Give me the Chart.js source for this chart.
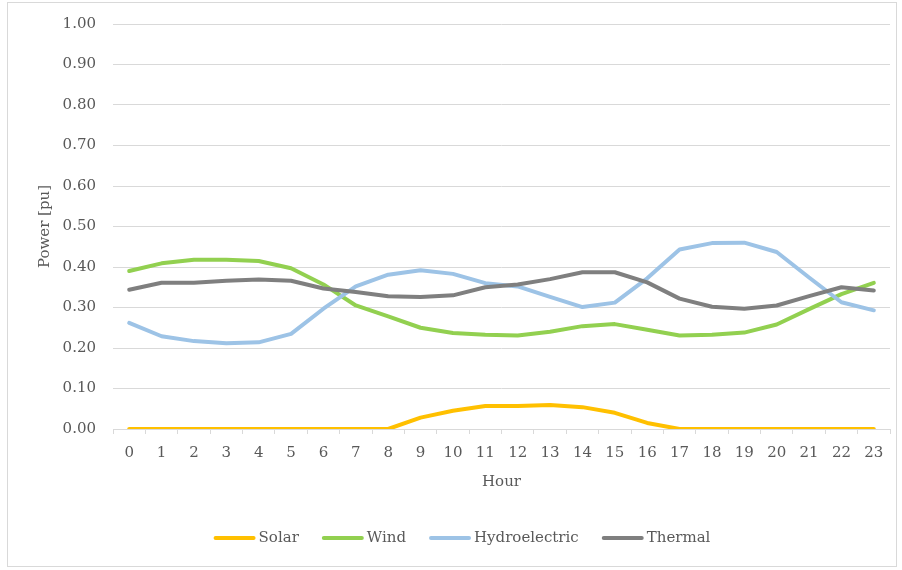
<!DOCTYPE html>
<html>
<head>
<meta charset="utf-8">
<script src="https://cdn.jsdelivr.net/npm/chart.js@4/dist/chart.umd.min.js"></script>
<style>
  html, body { margin: 0; padding: 0; background: #ffffff; }
  #wrap { position: relative; width: 902px; height: 570px; }
  #frame { position: absolute; left: 7px; top: 2px; width: 888px; height: 563px; border: 1px solid #D9D9D9; pointer-events: none; }
  canvas { position: absolute; left: 0; top: 0; }
</style>
</head>
<body>
<div id="wrap">
  <canvas id="chart" width="902" height="570"></canvas>
  <div id="frame"></div>
</div>
<script>
// Hourly generation mix, per-unit power
const hours = ['0','1','2','3','4','5','6','7','8','9','10','11','12','13','14','15','16','17','18','19','20','21','22','23'];
const solar = [0,0,0,0,0,0,0,0,0,0.028,0.045,0.057,0.057,0.059,0.054,0.040,0.015,0,0,0,0,0,0,0];
const wind = [0.390,0.409,0.418,0.418,0.415,0.397,0.357,0.305,0.278,0.250,0.237,0.233,0.231,0.240,0.254,0.259,0.245,0.231,0.233,0.238,0.258,0.296,0.333,0.361];
const hydro = [0.262,0.229,0.217,0.212,0.214,0.235,0.297,0.352,0.381,0.392,0.383,0.360,0.352,0.326,0.301,0.312,0.372,0.443,0.459,0.460,0.437,0.374,0.313,0.293];
const thermal = [0.344,0.361,0.361,0.366,0.369,0.366,0.347,0.338,0.328,0.326,0.330,0.350,0.357,0.370,0.387,0.387,0.362,0.322,0.302,0.297,0.305,0.328,0.350,0.342];
const seriesNames = ['Solar', 'Wind', 'Hydroelectric', 'Thermal'];
const seriesColors = ['#FFC000', '#92D050', '#9DC3E6', '#7F7F7F'];
const yTicks = [0, 0.1, 0.2, 0.3, 0.4, 0.5, 0.6, 0.7, 0.8, 0.9, 1.0];

const FONT = 'DejaVu Serif';
const TEXT = '#595959';
const GRID = '#D9D9D9';

const seriesData = [solar, wind, hydro, thermal];
const datasets = seriesData.map((d, i) => ({
  label: seriesNames[i],
  data: d,
  borderColor: seriesColors[i],
  backgroundColor: seriesColors[i],
  borderWidth: 4,
  pointRadius: 0,
  pointHoverRadius: 0,
  tension: 0,
  borderJoinStyle: 'round',
  borderCapStyle: 'round',
  order: seriesData.length - i
}));

// Legend row under the axis title: line sample, then the series name
const lineLegend = {
  id: 'lineLegend',
  afterDraw(chart) {
    const ctx = chart.ctx;
    const sample = 42, gap = 3, spacing = 23, centerX = 462, y = 538;
    ctx.save();
    ctx.font = '15px "' + FONT + '"';
    const items = chart.data.datasets.map(ds => ({
      label: ds.label, color: ds.borderColor, w: ctx.measureText(ds.label).width
    }));
    const total = items.reduce((s, it) => s + sample + gap + it.w, 0) + spacing * (items.length - 1);
    let x = centerX - total / 2;
    ctx.textBaseline = 'middle';
    ctx.textAlign = 'left';
    items.forEach(it => {
      ctx.strokeStyle = it.color;
      ctx.lineWidth = 4;
      ctx.lineCap = 'round';
      ctx.beginPath();
      ctx.moveTo(x + 2, y);
      ctx.lineTo(x + sample - 2, y);
      ctx.stroke();
      ctx.fillStyle = TEXT;
      ctx.fillText(it.label, x + sample + gap, y);
      x += sample + gap + it.w + spacing;
    });
    ctx.restore();
  }
};

new Chart(document.getElementById('chart'), {
  type: 'line',
  data: { labels: hours, datasets },
  plugins: [lineLegend],
  options: {
    responsive: false,
    animation: false,
    events: [],
    layout: { padding: { left: 0, right: 12, top: 24, bottom: 62 } },
    plugins: {
      tooltip: { enabled: false },
      legend: { display: false }
    },
    scales: {
      x: {
        offset: true,
        grid: {
          offset: true,
          drawOnChartArea: false,
          drawTicks: true,
          tickLength: 5,
          color: GRID
        },
        border: { display: true, color: GRID, width: 1 },
        ticks: {
          color: TEXT,
          font: { family: FONT, size: 15 },
          padding: 10,
          maxRotation: 0,
          autoSkip: false
        },
        title: {
          display: true,
          text: 'Hour',
          color: TEXT,
          font: { family: FONT, size: 15 },
          padding: { top: 0, bottom: 17 }
        },
        afterFit: (scale) => { scale.height = 79; scale.paddingLeft = 0; scale.paddingRight = 0; }
      },
      y: {
        min: 0,
        max: 1,
        afterBuildTicks: (scale) => { scale.ticks = yTicks.map(v => ({ value: v })); },
        grid: { color: GRID, drawTicks: false, lineWidth: 1 },
        border: { display: false },
        ticks: {
          color: TEXT,
          font: { family: FONT, size: 15 },
          padding: 17,
          callback: (v) => Number(v).toFixed(2)
        },
        title: {
          display: true,
          text: 'Power [pu]',
          color: TEXT,
          font: { family: FONT, size: 15 },
          padding: { top: 36, bottom: 0 }
        },
        afterFit: (scale) => { scale.width = 113; scale.paddingTop = 0; scale.paddingBottom = 0; }
      }
    }
  }
});
</script>
</body>
</html>
